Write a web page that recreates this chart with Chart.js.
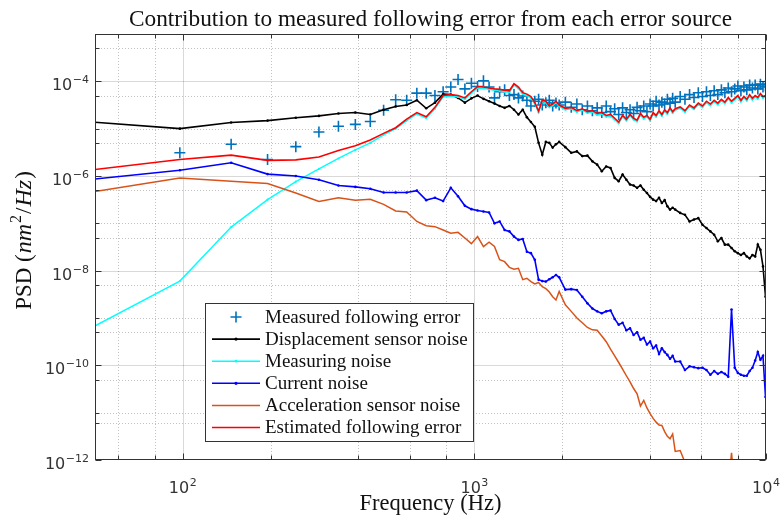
<!DOCTYPE html>
<html>
<head>
<meta charset="utf-8">
<script src="https://cdn.jsdelivr.net/npm/chart.js@4/dist/chart.umd.min.js"></script>
<style>
  html, body { margin: 0; padding: 0; background: #fff; }
  #wrap { width: 783px; height: 527px; }
</style>
</head>
<body>
<div id="wrap"><canvas id="psd" width="783" height="527"></canvas></div>
<script>
// FFT bin frequencies (Hz): every bin to ~2 kHz, then every 2nd, then every 4th
const freq = [
  48.8, 97.7, 146.5, 195.3, 244.1, 293.0, 341.8, 390.6, 439.5, 488.3,
  537.1, 585.9, 634.8, 683.6, 732.4, 781.3, 830.1, 878.9, 927.7, 976.6,
  1025.4, 1074.2, 1123.0, 1171.9, 1220.7, 1269.5, 1318.4, 1367.2, 1416.0, 1464.8,
  1513.7, 1562.5, 1611.3, 1660.2, 1709.0, 1757.8, 1806.6, 1855.5, 1904.3, 1953.1,
  2050.8, 2148.4, 2246.1, 2343.8, 2441.4, 2539.1, 2636.7, 2734.4, 2832.0, 2929.7,
  3027.3, 3125.0, 3222.7, 3320.3, 3418.0, 3515.6, 3613.3, 3710.9, 3808.6, 3906.3,
  4003.9, 4101.6, 4199.2, 4296.9, 4394.5, 4492.2, 4589.8, 4687.5, 4785.2, 4882.8,
  5078.1, 5273.4, 5468.8, 5664.1, 5859.4, 6054.7, 6250.0, 6445.3, 6640.6, 6835.9,
  7031.3, 7226.6, 7421.9, 7617.2, 7812.5, 8007.8, 8203.1, 8398.4, 8593.8, 8789.1,
  8984.4, 9179.7, 9375.0, 9570.3, 9765.6, 9960.9
];

// PSD values stored as log10(nm^2/Hz), one per frequency bin
const measuredExp = [
  null, -5.51, -5.33, -5.65, -5.38, -5.07, -4.95, -4.91, -4.85, -4.61,
  -4.39, -4.40, -4.25, -4.25, -4.30, -4.22, -4.12, -3.96, -4.16, -4.04,
  -4.11, -3.99, -4.12, -4.35, -4.22, -4.18, -4.30, -4.28, -4.35, -4.31,
  -4.40, -4.52, -4.42, -4.38, -4.50, -4.45, -4.40, -4.52, -4.46, -4.50,
  -4.44, -4.55, -4.48, -4.60, -4.52, -4.62, -4.56, -4.66, -4.52, -4.64,
  -4.58, -4.70, -4.56, -4.66, -4.60, -4.68, -4.55, -4.62, -4.52, -4.64,
  -4.48, -4.52, -4.42, -4.50, -4.44, -4.48, -4.38, -4.46, -4.36, -4.44,
  -4.32, -4.38, -4.28, -4.34, -4.24, -4.32, -4.22, -4.30, -4.20, -4.28,
  -4.18, -4.24, -4.14, -4.22, -4.16, -4.10, -4.20, -4.12, -4.18, -4.08,
  -4.14, -4.08, -4.16, -4.06, -4.12, -4.10
];
const displacementExp = [
  -4.86, -5.00, -4.87, -4.83, -4.77, -4.73, -4.68, -4.66, -4.70, -4.60,
  -4.53, -4.50, -4.40, -4.57, -4.45, -4.27, -4.28, -4.35, -4.45, -4.36,
  -4.30, -4.37, -4.42, -4.47, -4.52, -4.56, -4.52, -4.60, -4.70, -4.60,
  -4.76, -4.86, -4.96, -5.30, -5.55, -5.28, -5.30, -5.40, -5.33, -5.28,
  -5.39, -5.51, -5.48, -5.58, -5.57, -5.69, -5.76, -5.90, -5.80, -5.83,
  -6.04, -6.11, -5.97, -6.08, -6.18, -6.20, -6.25, -6.20, -6.29, -6.36,
  -6.44, -6.50, -6.53, -6.46, -6.57, -6.51, -6.64, -6.71, -6.67, -6.71,
  -6.78, -6.82, -6.96, -6.92, -6.89, -7.03, -7.10, -7.17, -7.24, -7.38,
  -7.31, -7.45, -7.45, -7.52, -7.59, -7.63, -7.67, -7.63, -7.70, -7.74,
  -7.67, -7.70, -7.45, -7.56, -7.91, -8.55
];
const measuringExp = [
  -9.20, -8.22, -7.08, -6.50, -6.12, -5.85, -5.63, -5.45, -5.30, -5.13,
  -5.00, -4.83, -4.69, -4.78, -4.58, -4.33, -4.31, -4.33, -4.38, -4.25,
  -4.14, -4.15, -4.17, -4.19, -4.20, -4.22, -4.23, -4.08, -4.15, -4.27,
  -4.30, -4.35, -4.48, -4.66, -4.43, -4.45, -4.55, -4.51, -4.45, -4.53,
  -4.60, -4.58, -4.65, -4.61, -4.67, -4.65, -4.71, -4.69, -4.75, -4.73,
  -4.81, -4.89, -4.75, -4.83, -4.73, -4.81, -4.85, -4.71, -4.79, -4.75,
  -4.83, -4.69, -4.75, -4.65, -4.73, -4.63, -4.69, -4.59, -4.67, -4.61,
  -4.57, -4.65, -4.53, -4.59, -4.49, -4.55, -4.45, -4.51, -4.43, -4.49,
  -4.41, -4.47, -4.37, -4.45, -4.39, -4.33, -4.43, -4.35, -4.41, -4.31,
  -4.39, -4.33, -4.37, -4.29, -4.35, -4.33
];
const currentExp = [
  -6.07, -5.88, -5.72, -5.96, -6.00, -6.08, -6.20, -6.23, -6.27, -6.35,
  -6.35, -6.35, -6.31, -6.51, -6.46, -6.53, -6.25, -6.43, -6.63, -6.70,
  -6.73, -6.75, -6.77, -7.00, -6.96, -7.14, -7.17, -7.28, -7.35, -7.33,
  -7.60, -7.63, -7.77, -8.19, -8.22, -8.23, -8.18, -8.14, -8.09, -8.14,
  -8.40, -8.39, -8.41, -8.55, -8.69, -8.80, -8.86, -8.90, -8.86, -8.84,
  -9.02, -9.14, -9.10, -9.26, -9.22, -9.36, -9.30, -9.46, -9.42, -9.56,
  -9.50, -9.64, -9.58, -9.76, -9.64, -9.72, -9.78, -9.86, -9.80, -9.92,
  -9.92, -10.10, -10.02, -10.04, -10.06, -10.05, -10.10, -10.20, -10.12, -10.18,
  -10.14, -10.18, -10.24, -8.82, -10.05, -10.16, -10.20, -10.22, -10.22, -10.12,
  -10.05, -9.90, -9.72, -9.88, -9.80, -10.67
];
const accelerationExp = [
  -6.34, -6.04, -6.11, -6.16, -6.36, -6.54, -6.46, -6.51, -6.49, -6.60,
  -6.74, -6.76, -6.96, -7.05, -7.07, -7.14, -7.21, -7.19, -7.31, -7.43,
  -7.28, -7.49, -7.40, -7.49, -7.77, -7.81, -7.93, -7.97, -7.95, -8.19,
  -8.16, -8.23, -8.28, -8.25, -8.34, -8.38, -8.45, -8.55, -8.62, -8.44,
  -8.72, -8.86, -9.00, -9.10, -9.20, -9.25, -9.26, -9.38, -9.50, -9.66,
  -9.80, -9.94, -10.08, -10.22, -10.35, -10.49, -10.60, -10.86, -10.74, -10.90,
  -11.02, -11.12, -11.20, -11.26, -11.27, -11.40, -11.50, -11.55, -11.45, -11.82,
  -11.80, -12.05, -12.20, -12.35, -12.45, -12.55, -12.65, -12.75, -12.85, -12.90,
  -13.00, -13.00, -12.60, -11.85, -12.60, -13.10, -13.20, -13.20, -13.30, -13.30,
  -13.30, -13.40, -13.40, -13.40, -13.50, -13.50
];
const estimatedExp = [
  -5.87, -5.65, -5.56, -5.67, -5.66, -5.60, -5.46, -5.36, -5.24, -5.10,
  -4.98, -4.80, -4.66, -4.75, -4.55, -4.30, -4.28, -4.30, -4.35, -4.22,
  -4.11, -4.12, -4.14, -4.16, -4.17, -4.19, -4.20, -4.05, -4.12, -4.24,
  -4.27, -4.32, -4.45, -4.63, -4.40, -4.42, -4.52, -4.48, -4.42, -4.50,
  -4.57, -4.55, -4.62, -4.58, -4.64, -4.62, -4.68, -4.66, -4.72, -4.70,
  -4.78, -4.86, -4.72, -4.80, -4.70, -4.78, -4.82, -4.68, -4.76, -4.72,
  -4.80, -4.66, -4.72, -4.62, -4.70, -4.60, -4.66, -4.56, -4.64, -4.58,
  -4.54, -4.62, -4.50, -4.56, -4.46, -4.52, -4.42, -4.48, -4.40, -4.46,
  -4.38, -4.44, -4.34, -4.42, -4.36, -4.30, -4.40, -4.32, -4.38, -4.28,
  -4.36, -4.30, -4.34, -4.26, -4.32, -4.30
];

const seriesNames = [
  'Measured following error',
  'Displacement sensor noise',
  'Measuring noise',
  'Current noise',
  'Acceleration sensor noise',
  'Estimated following error'
];
const seriesColors = ['#0072BD', '#000000', '#00FFFF', '#0000FF', '#D95319', '#FF0000'];

const xLabelExps = [2, 3, 4];
const yLabelExps = [-12, -10, -8, -6, -4];

const titleText = 'Contribution to measured following error from each error source';
const xTitle = 'Frequency (Hz)';

const AXIS_COLOR = '#333333';
const SERIF = '"Liberation Serif", "Times New Roman", serif';
const SANS = '"DejaVu Sans", sans-serif';

function toPoints(exps) {
  const pts = [];
  exps.forEach((e, i) => {
    if (e !== null) pts.push({ x: freq[i], y: Math.pow(10, e) });
  });
  return pts;
}

function decadeOf(v) {
  const l = Math.log10(v);
  const r = Math.round(l);
  return Math.abs(l - r) < 1e-6 ? r : null;
}

// draws "10" with a raised exponent, anchored by its left edge
function drawPower(ctx, exp, x, baseY) {
  const base = '10';
  const sup = String(exp).replace('-', '\u2212');
  ctx.font = '16px ' + SANS;
  ctx.fillText(base, x, baseY);
  const w = ctx.measureText(base).width;
  ctx.font = '11px ' + SANS;
  ctx.fillText(sup, x + w + 0.5, baseY - 7);
}
function powerWidth(ctx, exp) {
  const sup = String(exp).replace('-', '\u2212');
  ctx.font = '16px ' + SANS;
  const w1 = ctx.measureText('10').width;
  ctx.font = '11px ' + SANS;
  return w1 + 0.5 + ctx.measureText(sup).width;
}

const framePlugin = {
  id: 'frame',
  beforeDraw(chart) {
    const ctx = chart.ctx;
    ctx.save();
    ctx.fillStyle = '#ffffff';
    ctx.fillRect(0, 0, chart.width, chart.height);
    ctx.restore();
  },
  beforeDatasetsDraw(chart) {
    const { ctx, chartArea: a, scales: { x, y } } = chart;
    ctx.save();
    ctx.lineWidth = 1;
    // vertical grid
    x.ticks.forEach(t => {
      const px = Math.round(x.getPixelForValue(t.value)) + 0.5;
      if (px <= a.left + 1 || px >= a.right - 1) return;
      const d = decadeOf(t.value);
      if (d !== null) {
        ctx.setLineDash([]);
        ctx.strokeStyle = 'rgba(0,0,0,0.15)';
      } else {
        ctx.setLineDash([1, 2]);
        ctx.strokeStyle = 'rgba(0,0,0,0.24)';
      }
      ctx.beginPath();
      ctx.moveTo(px, a.top);
      ctx.lineTo(px, a.bottom);
      ctx.stroke();
    });
    // horizontal grid
    y.ticks.forEach(t => {
      const py = Math.round(y.getPixelForValue(t.value)) + 0.5;
      if (py <= a.top + 1 || py >= a.bottom - 1) return;
      const d = decadeOf(t.value);
      if (d !== null && d % 2 === 0) {
        ctx.setLineDash([]);
        ctx.strokeStyle = 'rgba(0,0,0,0.15)';
      } else {
        ctx.setLineDash([1, 2]);
        ctx.strokeStyle = 'rgba(0,0,0,0.24)';
      }
      ctx.beginPath();
      ctx.moveTo(a.left, py);
      ctx.lineTo(a.right, py);
      ctx.stroke();
    });
    ctx.restore();
  },
  afterDatasetsDraw(chart) {
    const { ctx, chartArea: a, scales: { x, y } } = chart;
    ctx.save();
    ctx.setLineDash([]);
    ctx.strokeStyle = AXIS_COLOR;
    ctx.fillStyle = AXIS_COLOR;
    ctx.lineWidth = 1;

    const L = Math.round(a.left) + 0.5, R = Math.round(a.right) - 0.5;
    const T = Math.round(a.top) + 0.5, B = Math.round(a.bottom) - 0.5;

    // inward ticks on all four sides
    ctx.beginPath();
    x.ticks.forEach(t => {
      const px = Math.round(x.getPixelForValue(t.value)) + 0.5;
      const len = decadeOf(t.value) !== null ? 6 : 4;
      ctx.moveTo(px, B); ctx.lineTo(px, B - len);
      ctx.moveTo(px, T); ctx.lineTo(px, T + len);
    });
    y.ticks.forEach(t => {
      const py = Math.round(y.getPixelForValue(t.value)) + 0.5;
      const d = decadeOf(t.value);
      const len = (d !== null && d % 2 === 0) ? 6 : 4;
      ctx.moveTo(L, py); ctx.lineTo(L + len, py);
      ctx.moveTo(R, py); ctx.lineTo(R - len, py);
    });
    ctx.stroke();

    // axes box
    ctx.strokeRect(L, T, R - L, B - T);

    // tick labels
    ctx.textBaseline = 'alphabetic';
    ctx.textAlign = 'left';
    xLabelExps.forEach(e => {
      const px = x.getPixelForValue(Math.pow(10, e));
      const w = powerWidth(ctx, e);
      drawPower(ctx, e, px - w / 2, a.bottom + 33);
    });
    yLabelExps.forEach(e => {
      const py = y.getPixelForValue(Math.pow(10, e));
      const w = powerWidth(ctx, e);
      drawPower(ctx, e, a.left - 6 - w, py + 9);
    });

    // legend
    const box = { x: 205.5, y: 303.5, w: 268, h: 138 };
    ctx.fillStyle = '#ffffff';
    ctx.fillRect(box.x, box.y, box.w, box.h);
    ctx.strokeStyle = AXIS_COLOR;
    ctx.strokeRect(box.x, box.y, box.w, box.h);
    const rowH = 22.1;
    chart.data.datasets.forEach((ds, i) => {
      const cy = 317 + i * rowH;
      const x0 = 212, x1 = 260, xm = 236;
      ctx.strokeStyle = ds.borderColor;
      ctx.fillStyle = ds.borderColor;
      if (ds.showLine === false) {
        ctx.lineWidth = 1.6;
        ctx.beginPath();
        ctx.moveTo(xm - 5.5, cy); ctx.lineTo(xm + 5.5, cy);
        ctx.moveTo(xm, cy - 5.5); ctx.lineTo(xm, cy + 5.5);
        ctx.stroke();
      } else {
        ctx.lineWidth = ds.borderWidth;
        ctx.beginPath();
        ctx.moveTo(x0, cy); ctx.lineTo(x1, cy);
        ctx.stroke();
        if (ds.pointRadius > 0) {
          ctx.beginPath();
          ctx.arc(xm, cy, ds.pointRadius + 0.3, 0, Math.PI * 2);
          ctx.fill();
        }
      }
      ctx.fillStyle = '#111111';
      ctx.font = '19px ' + SERIF;
      ctx.textBaseline = 'middle';
      ctx.textAlign = 'left';
      ctx.fillText(seriesNames[i], 265, cy + 1);
    });

    // titles
    const cx = (a.left + a.right) / 2;
    ctx.fillStyle = '#111111';
    ctx.textAlign = 'center';
    ctx.textBaseline = 'alphabetic';
    ctx.font = '23.3px ' + SERIF;
    ctx.fillText(titleText, cx, 26);
    ctx.font = '22.5px ' + SERIF;
    ctx.fillText(xTitle, cx, 510);

    // y title with italic units and a superscript
    const parts = [
      { t: 'PSD (', f: '23px ' + SERIF, dy: 0 },
      { t: 'nm', f: 'italic 24px ' + SERIF, dy: 0 },
      { t: '2', f: '16px ' + SERIF, dy: -10 },
      { t: '/', f: '23px ' + SERIF, dy: 0 },
      { t: 'Hz', f: 'italic 24px ' + SERIF, dy: 0 },
      { t: ')', f: '23px ' + SERIF, dy: 0 }
    ];
    let total = 0;
    parts.forEach(p => { ctx.font = p.f; p.w = ctx.measureText(p.t).width + 1; total += p.w; });
    ctx.translate(31, 240);
    ctx.rotate(-Math.PI / 2);
    ctx.textAlign = 'left';
    let tx = -total / 2;
    parts.forEach(p => {
      ctx.font = p.f;
      ctx.fillText(p.t, tx, p.dy);
      tx += p.w;
    });
    ctx.restore();
  }
};

const lineBase = { showLine: true, tension: 0, fill: false, pointBorderWidth: 0 };

new Chart(document.getElementById('psd'), {
  type: 'line',
  data: {
    datasets: [
      {
        label: seriesNames[0], data: toPoints(measuredExp), showLine: false,
        pointStyle: 'cross', pointRadius: 5.5, pointBorderWidth: 1.6,
        borderColor: seriesColors[0], backgroundColor: seriesColors[0], order: 5
      },
      Object.assign({}, lineBase, {
        label: seriesNames[1], data: toPoints(displacementExp), borderColor: seriesColors[1],
        backgroundColor: seriesColors[1], borderWidth: 1.6, pointRadius: 1.3, order: 4
      }),
      Object.assign({}, lineBase, {
        label: seriesNames[2], data: toPoints(measuringExp), borderColor: seriesColors[2],
        backgroundColor: seriesColors[2], borderWidth: 1.4, pointRadius: 1.1, order: 3
      }),
      Object.assign({}, lineBase, {
        label: seriesNames[3], data: toPoints(currentExp), borderColor: seriesColors[3],
        backgroundColor: seriesColors[3], borderWidth: 1.6, pointRadius: 1.3, order: 2
      }),
      Object.assign({}, lineBase, {
        label: seriesNames[4], data: toPoints(accelerationExp), borderColor: seriesColors[4],
        backgroundColor: seriesColors[4], borderWidth: 1.5, pointRadius: 0, order: 1
      }),
      Object.assign({}, lineBase, {
        label: seriesNames[5], data: toPoints(estimatedExp), borderColor: seriesColors[5],
        backgroundColor: seriesColors[5], borderWidth: 1.6, pointRadius: 0, order: 0
      })
    ]
  },
  options: {
    responsive: false,
    animation: false,
    events: [],
    layout: { padding: { left: 95, right: 17, top: 34, bottom: 67 } },
    scales: {
      x: { type: 'logarithmic', min: 50, max: 10000, display: false },
      y: { type: 'logarithmic', min: 1e-12, max: 1e-3, display: false }
    },
    plugins: {
      legend: { display: false },
      tooltip: { enabled: false },
      title: { display: false }
    }
  },
  plugins: [framePlugin]
});
</script>
</body>
</html>
